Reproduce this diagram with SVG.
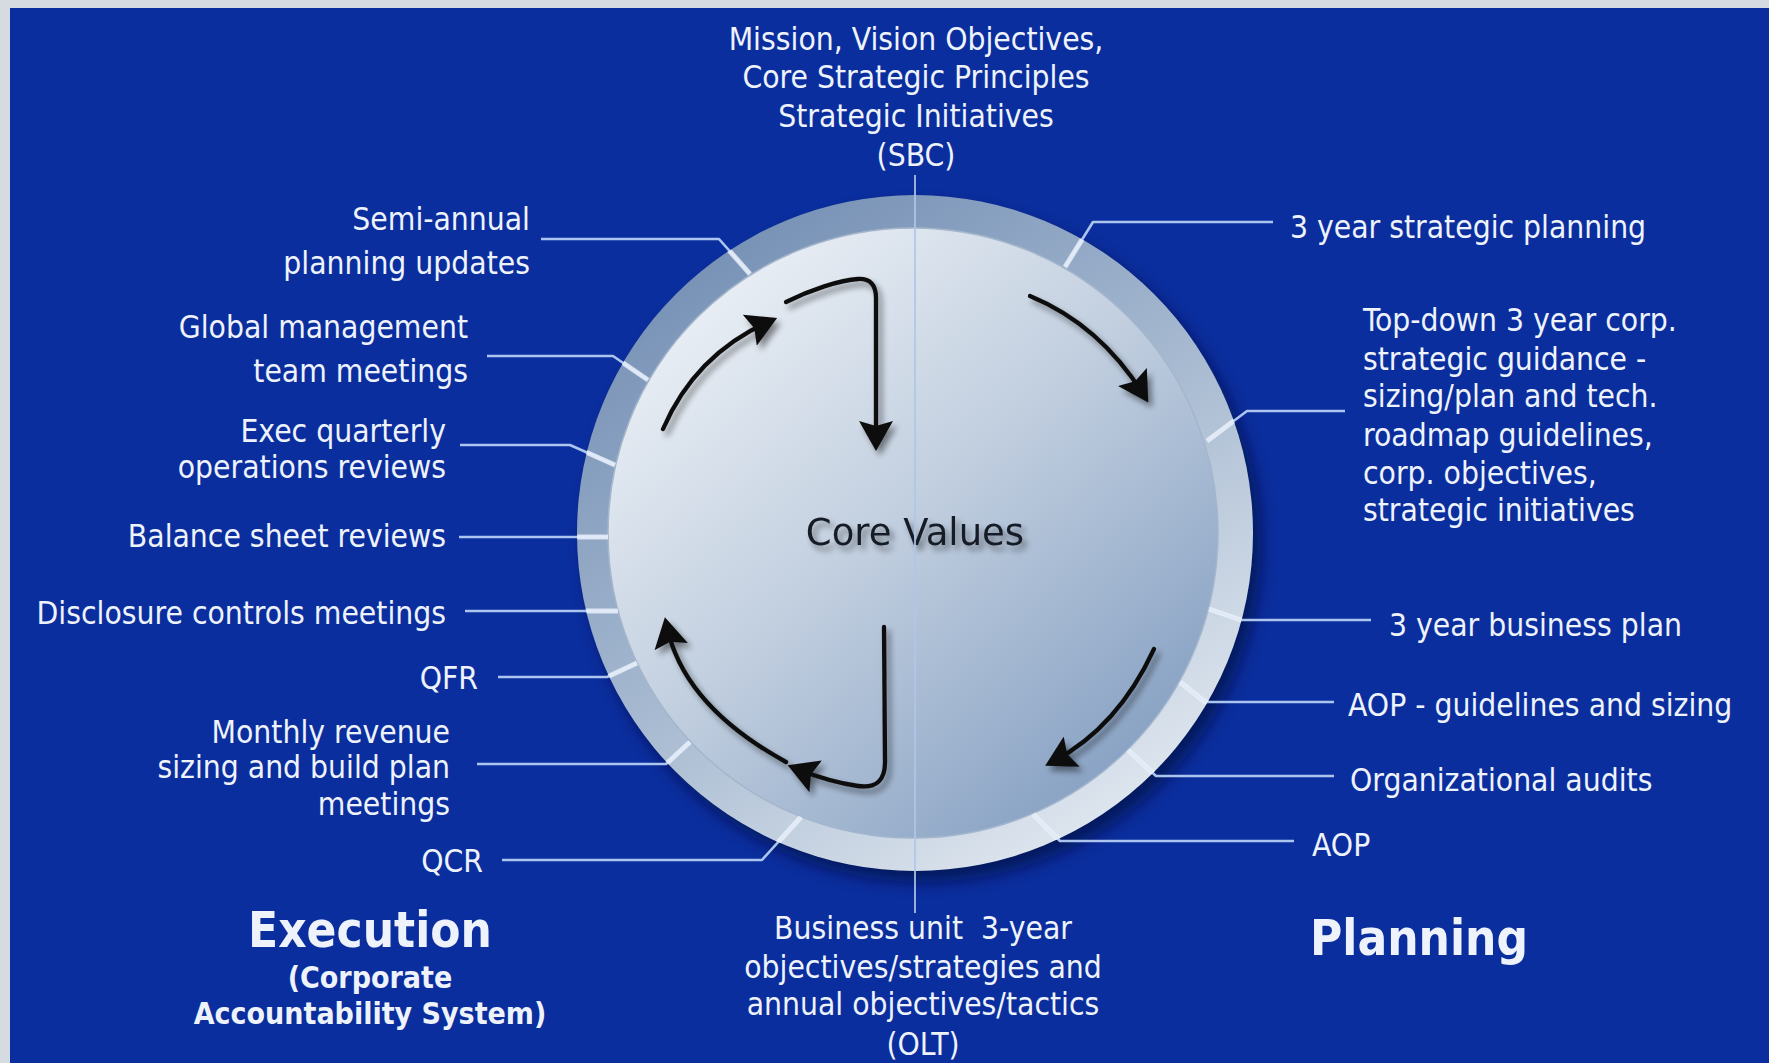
<svg xmlns="http://www.w3.org/2000/svg" xmlns:xlink="http://www.w3.org/1999/xlink" width="1769" height="1063" viewBox="0 0 1769 1063">
<style>
.lbl{font-family:'DejaVu Sans Condensed','DejaVu Sans',sans-serif;font-stretch:condensed;font-size:31.5px;fill:#eef3fb}
.r{text-anchor:end}
.c{text-anchor:middle}
.big{font-weight:bold;font-size:49px}
.sub{font-weight:bold;font-size:30px}
.core{font-family:'DejaVu Sans',sans-serif;font-size:37px;fill:#171c28;text-anchor:middle}
.leader{fill:none;stroke:#abc5ef;stroke-width:2.6;stroke-linejoin:round}
.arrow{fill:none;stroke:#0d0d0f;stroke-width:4.3;stroke-linecap:round;stroke-linejoin:round}
</style>
<defs>
<linearGradient id="ringG" x1="0.2" y1="0.05" x2="0.8" y2="0.95">
<stop offset="0" stop-color="#7590b5"/>
<stop offset="0.5" stop-color="#a6b9d0"/>
<stop offset="1" stop-color="#e1e8f0"/>
</linearGradient>
<linearGradient id="discG" x1="0.15" y1="0.1" x2="0.85" y2="0.9">
<stop offset="0" stop-color="#eaeff5"/>
<stop offset="0.45" stop-color="#c3d0e0"/>
<stop offset="1" stop-color="#87a1c3"/>
</linearGradient>
<filter id="ringShadow" x="-20%" y="-20%" width="140%" height="140%">
<feGaussianBlur stdDeviation="8"/>
</filter>
<filter id="softShadow" x="-30%" y="-30%" width="160%" height="160%">
<feGaussianBlur in="SourceAlpha" stdDeviation="3"/>
<feOffset dx="4" dy="5" result="b"/>
<feComponentTransfer><feFuncA type="linear" slope="0.45"/></feComponentTransfer>
<feMerge><feMergeNode/><feMergeNode in="SourceGraphic"/></feMerge>
</filter>
<clipPath id="ringClip">
<path clip-rule="evenodd" d="M577,533a338,338 0 1,0 676,0a338,338 0 1,0 -676,0ZM608,533a305,305 0 1,0 610,0a305,305 0 1,0 -610,0Z"/>
</clipPath>
<marker id="head" viewBox="0 0 30 34" refX="20" refY="17" markerWidth="30" markerHeight="34" markerUnits="userSpaceOnUse" orient="auto">
<path d="M0,0L30,17L0,34L5,17Z" fill="#0d0d0f"/>
</marker>
</defs>

<rect x="0" y="0" width="1769" height="1063" fill="#d6dbe1"/>
<rect x="10" y="8" width="1759" height="1055" fill="#0b2e9e"/>

<g id="core">
<circle cx="923" cy="544" r="338" fill="#000a3a" opacity="0.65" filter="url(#ringShadow)"/>
<circle cx="915" cy="533" r="338" fill="url(#ringG)"/>
<circle cx="913" cy="533" r="305" fill="url(#discG)" stroke="#a4b6cc" stroke-width="1.5"/>
<text class="core" x="915" y="545" filter="url(#softShadow)">Core Values</text>
</g>

<g id="connectors">
<line x1="915" y1="175" x2="915" y2="913" stroke="#b1c6e8" stroke-width="2" opacity="0.85"/>
<g class="leader">
<g id="leaderset">
<polyline points="541,239 719,239 750,274"/>
<polyline points="487,356 613,356 648,380"/>
<polyline points="460,445 570,445 615,465"/>
<polyline points="459,537 608,537"/>
<polyline points="465,611 618,611"/>
<polyline points="498,677 607,677 637,663"/>
<polyline points="477,764 666,764 690,742"/>
<polyline points="502,860 762,860 801,817"/>
<polyline points="1273,222 1093,222 1065,267"/>
<polyline points="1345,411 1247,411 1207,441"/>
<polyline points="1371,620 1241,620 1209,609"/>
<polyline points="1334,702 1205,702 1180,682"/>
<polyline points="1334,776 1156,776 1128,750"/>
<polyline points="1294,841 1060,841 1033,814"/>
</g>
</g>
<use xlink:href="#leaderset" href="#leaderset" fill="none" stroke="#eef3fa" stroke-width="5" opacity="0.8" clip-path="url(#ringClip)"/>
<g filter="url(#softShadow)">
<path class="arrow" marker-end="url(#head)" d="M663,429Q695,355 768,322"/>
<path class="arrow" marker-end="url(#head)" d="M786,302C810,290 840,280 858,279Q876,278 876,298L876,441"/>
<path class="arrow" marker-end="url(#head)" d="M1030,296Q1100,325 1143,394"/>
<path class="arrow" marker-end="url(#head)" d="M1154,649Q1118,727 1054,761"/>
<path class="arrow" marker-end="url(#head)" d="M884,627L885,760Q886,790 858,786Q830,782 797,769"/>
<path class="arrow" marker-end="url(#head)" d="M786,762Q684,706 667,627"/>
</g>
</g>

<g id="top-label">
<text class="lbl c"><tspan x="916" y="50">Mission, Vision Objectives,</tspan><tspan x="916" y="88">Core Strategic Principles</tspan><tspan x="916" y="127">Strategic Initiatives</tspan><tspan x="916" y="166">(SBC)</tspan></text>
</g>
<g id="bottom-label">
<text class="lbl c"><tspan x="923" y="939">Business unit&#160; 3-year</tspan><tspan x="923" y="978">objectives/strategies and</tspan><tspan x="923" y="1015">annual objectives/tactics</tspan><tspan x="923" y="1055">(OLT)</tspan></text>
</g>

<g id="semi-annual"><text class="lbl r"><tspan x="530" y="230">Semi-annual</tspan><tspan x="530" y="274">planning updates</tspan></text></g>
<g id="global-mgmt"><text class="lbl r"><tspan x="468" y="338">Global management</tspan><tspan x="468" y="382">team meetings</tspan></text></g>
<g id="exec-quarterly"><text class="lbl r"><tspan x="446" y="442">Exec quarterly</tspan><tspan x="446" y="478">operations reviews</tspan></text></g>
<g id="balance-sheet"><text class="lbl r" x="446" y="547">Balance sheet reviews</text></g>
<g id="disclosure"><text class="lbl r" x="446" y="624">Disclosure controls meetings</text></g>
<g id="qfr"><text class="lbl r" x="478" y="689">QFR</text></g>
<g id="monthly-revenue"><text class="lbl r"><tspan x="450" y="743">Monthly revenue</tspan><tspan x="450" y="778">sizing and build plan</tspan><tspan x="450" y="815">meetings</tspan></text></g>
<g id="qcr"><text class="lbl r" x="483" y="872">QCR</text></g>

<g id="strategic-planning"><text class="lbl" x="1290" y="238">3 year strategic planning</text></g>
<g id="top-down"><text class="lbl"><tspan x="1363" y="331">Top-down 3 year corp.</tspan><tspan x="1363" y="370">strategic guidance -</tspan><tspan x="1363" y="407">sizing/plan and tech.</tspan><tspan x="1363" y="446">roadmap guidelines,</tspan><tspan x="1363" y="484">corp. objectives,</tspan><tspan x="1363" y="521">strategic initiatives</tspan></text></g>
<g id="business-plan"><text class="lbl" x="1389" y="636">3 year business plan</text></g>
<g id="aop-guidelines"><text class="lbl" x="1348" y="716">AOP - guidelines and sizing</text></g>
<g id="org-audits"><text class="lbl" x="1350" y="791">Organizational audits</text></g>
<g id="aop"><text class="lbl" x="1312" y="856">AOP</text></g>

<g id="execution"><text class="lbl c big" x="370" y="947">Execution</text><text class="lbl c sub" x="370" y="988">(Corporate</text><text class="lbl c sub" x="370" y="1024">Accountability System)</text></g>
<g id="planning"><text class="lbl big" x="1310" y="955">Planning</text></g>
</svg>
